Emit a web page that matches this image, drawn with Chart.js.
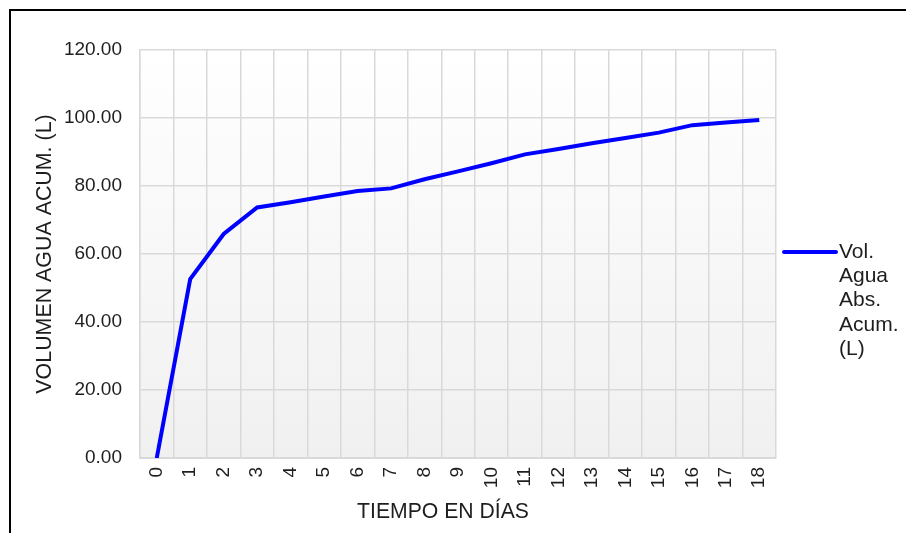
<!DOCTYPE html>
<html>
<head>
<meta charset="utf-8">
<script src="https://cdn.jsdelivr.net/npm/chart.js@4/dist/chart.umd.min.js"></script>
<style>
html,body{margin:0;padding:0;background:#fff;}
#wrap{position:relative;width:906px;height:533px;}
</style>
</head>
<body>
<div id="wrap"><canvas id="c" width="906" height="533"></canvas></div>
<script>
const days = ["0","1","2","3","4","5","6","7","8","9","10","11","12","13","14","15","16","17","18"];
const volumen = [0, 52.6, 65.9, 73.7, 75.2, 76.9, 78.5, 79.3, 82.0, 84.3, 86.7, 89.3, 90.9, 92.6, 94.1, 95.7, 97.9, 98.7, 99.4];
const seriesLabel = ["Vol.", "Agua", "Abs.", "Acum.", "(L)"];
const yTitle = "VOLUMEN AGUA ACUM. (L)";
const xTitle = "TIEMPO EN DÍAS";

const FONT = "'Liberation Sans', Arial, sans-serif";
const TXT = "#1e1e1e";
const GRID = "#d9d9d9";

const bgPlugin = {
  id: 'bg',
  beforeDraw(chart) {
    const {ctx, chartArea: a} = chart;
    ctx.save();
    const g = ctx.createLinearGradient(0, a.top, 0, a.bottom);
    g.addColorStop(0, '#ffffff');
    g.addColorStop(1, '#f0f0f0');
    ctx.fillStyle = g;
    ctx.fillRect(a.left, a.top, a.right - a.left, a.bottom - a.top);
    ctx.restore();
  },
  afterDraw(chart) {
    const {ctx} = chart;
    ctx.save();
    // outer chart frame
    ctx.strokeStyle = '#000';
    ctx.lineWidth = 2;
    ctx.beginPath();
    ctx.moveTo(10, 533);
    ctx.lineTo(10, 10);
    ctx.lineTo(906, 10);
    ctx.stroke();
    // x axis title (centred on the chart like the reference)
    ctx.fillStyle = TXT;
    ctx.font = "21.2px " + FONT;
    ctx.textBaseline = 'middle';
    ctx.textAlign = 'center';
    ctx.fillText(chart.options.scales.x.customTitle, 443, 512);
    // legend
    const ds = chart.data.datasets[0];
    const ly = 252;
    ctx.strokeStyle = ds.borderColor;
    ctx.lineWidth = 4;
    ctx.lineCap = 'round';
    ctx.beginPath();
    ctx.moveTo(784, ly);
    ctx.lineTo(836, ly);
    ctx.stroke();
    ctx.font = "21px " + FONT;
    ctx.textAlign = 'left';
    ds.legendLines.forEach((t, i) => ctx.fillText(t, 839, ly + i * 24.3));
    ctx.restore();
  }
};

new Chart(document.getElementById('c'), {
  type: 'line',
  data: {
    labels: days,
    datasets: [{
      label: seriesLabel.join(' '),
      legendLines: seriesLabel,
      data: volumen,
      borderColor: '#0000ff',
      borderWidth: 4,
      pointRadius: 0,
      tension: 0,
      fill: false
    }]
  },
  options: {
    responsive: false,
    animation: false,
    layout: {padding: {top: 50, right: 130, bottom: 0, left: 0}},
    plugins: {legend: {display: false}, tooltip: {enabled: false}},
    scales: {
      x: {
        type: 'category',
        offset: true,
        customTitle: xTitle,
        afterFit(s) { s.height = 75; },
        grid: {offset: true, color: GRID, lineWidth: 1.5, drawTicks: false},
        border: {color: GRID, width: 2},
        ticks: {color: TXT, font: {family: FONT, size: 19}, minRotation: 90, maxRotation: 90, padding: 9, autoSkip: false},
        title: {display: false}
      },
      y: {
        min: 0, max: 120,
        afterFit(s) { s.width = 140; },
        grid: {color: GRID, lineWidth: 1.5, drawTicks: false},
        border: {color: GRID, width: 1.5},
        ticks: {stepSize: 20, color: TXT, font: {family: FONT, size: 19}, padding: 18,
          callback: v => Number(v).toFixed(2)},
        title: {display: true, text: yTitle, color: TXT, font: {family: FONT, size: 21.4}, padding: {top: 32, bottom: 0}}
      }
    }
  },
  plugins: [bgPlugin]
});
</script>
</body>
</html>
